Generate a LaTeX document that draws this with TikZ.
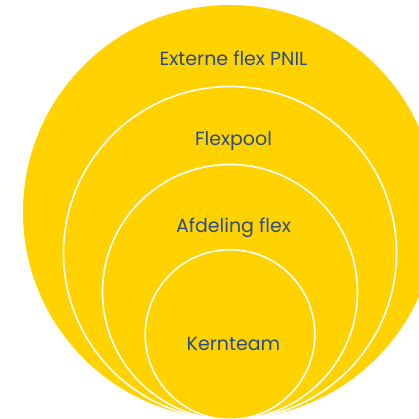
\documentclass[tikz,border=0pt]{standalone}
\usepackage{fontspec}
\setmainfont{Poppins}
\definecolor{sun}{RGB}{255,210,0}
\definecolor{ink}{RGB}{44,76,126}
\begin{document}
\begin{tikzpicture}[x=1pt,y=-1pt,
  ring/.style={fill=sun,draw=white,line width=1.6pt},
  lbl/.style={text=ink,font=\fontsize{19}{22}\selectfont,anchor=base,inner sep=0pt}]
\useasboundingbox[fill=white] (0,0) rectangle (419,419);
\clip (0,0) rectangle (419,419);
% nested circles, all touching at the bottom
\fill[sun] (230,212) circle[radius=207];
\draw[ring] (230,253) circle[radius=166.5];
\draw[ring] (230,292) circle[radius=127.5];
\draw[ring] (230,334.5) circle[radius=84.8];
% labels
\node[lbl] (ext)  at (233.5,65.5) {Externe flex PNIL};
\node[lbl] (pool) at (233.5,146) {Flexpool};
\node[lbl] (afd)  at (233.5,232) {Afdeling flex};
\node[lbl] (kern) at (233.5,350.5) {Kernteam};
\end{tikzpicture}
\end{document}
